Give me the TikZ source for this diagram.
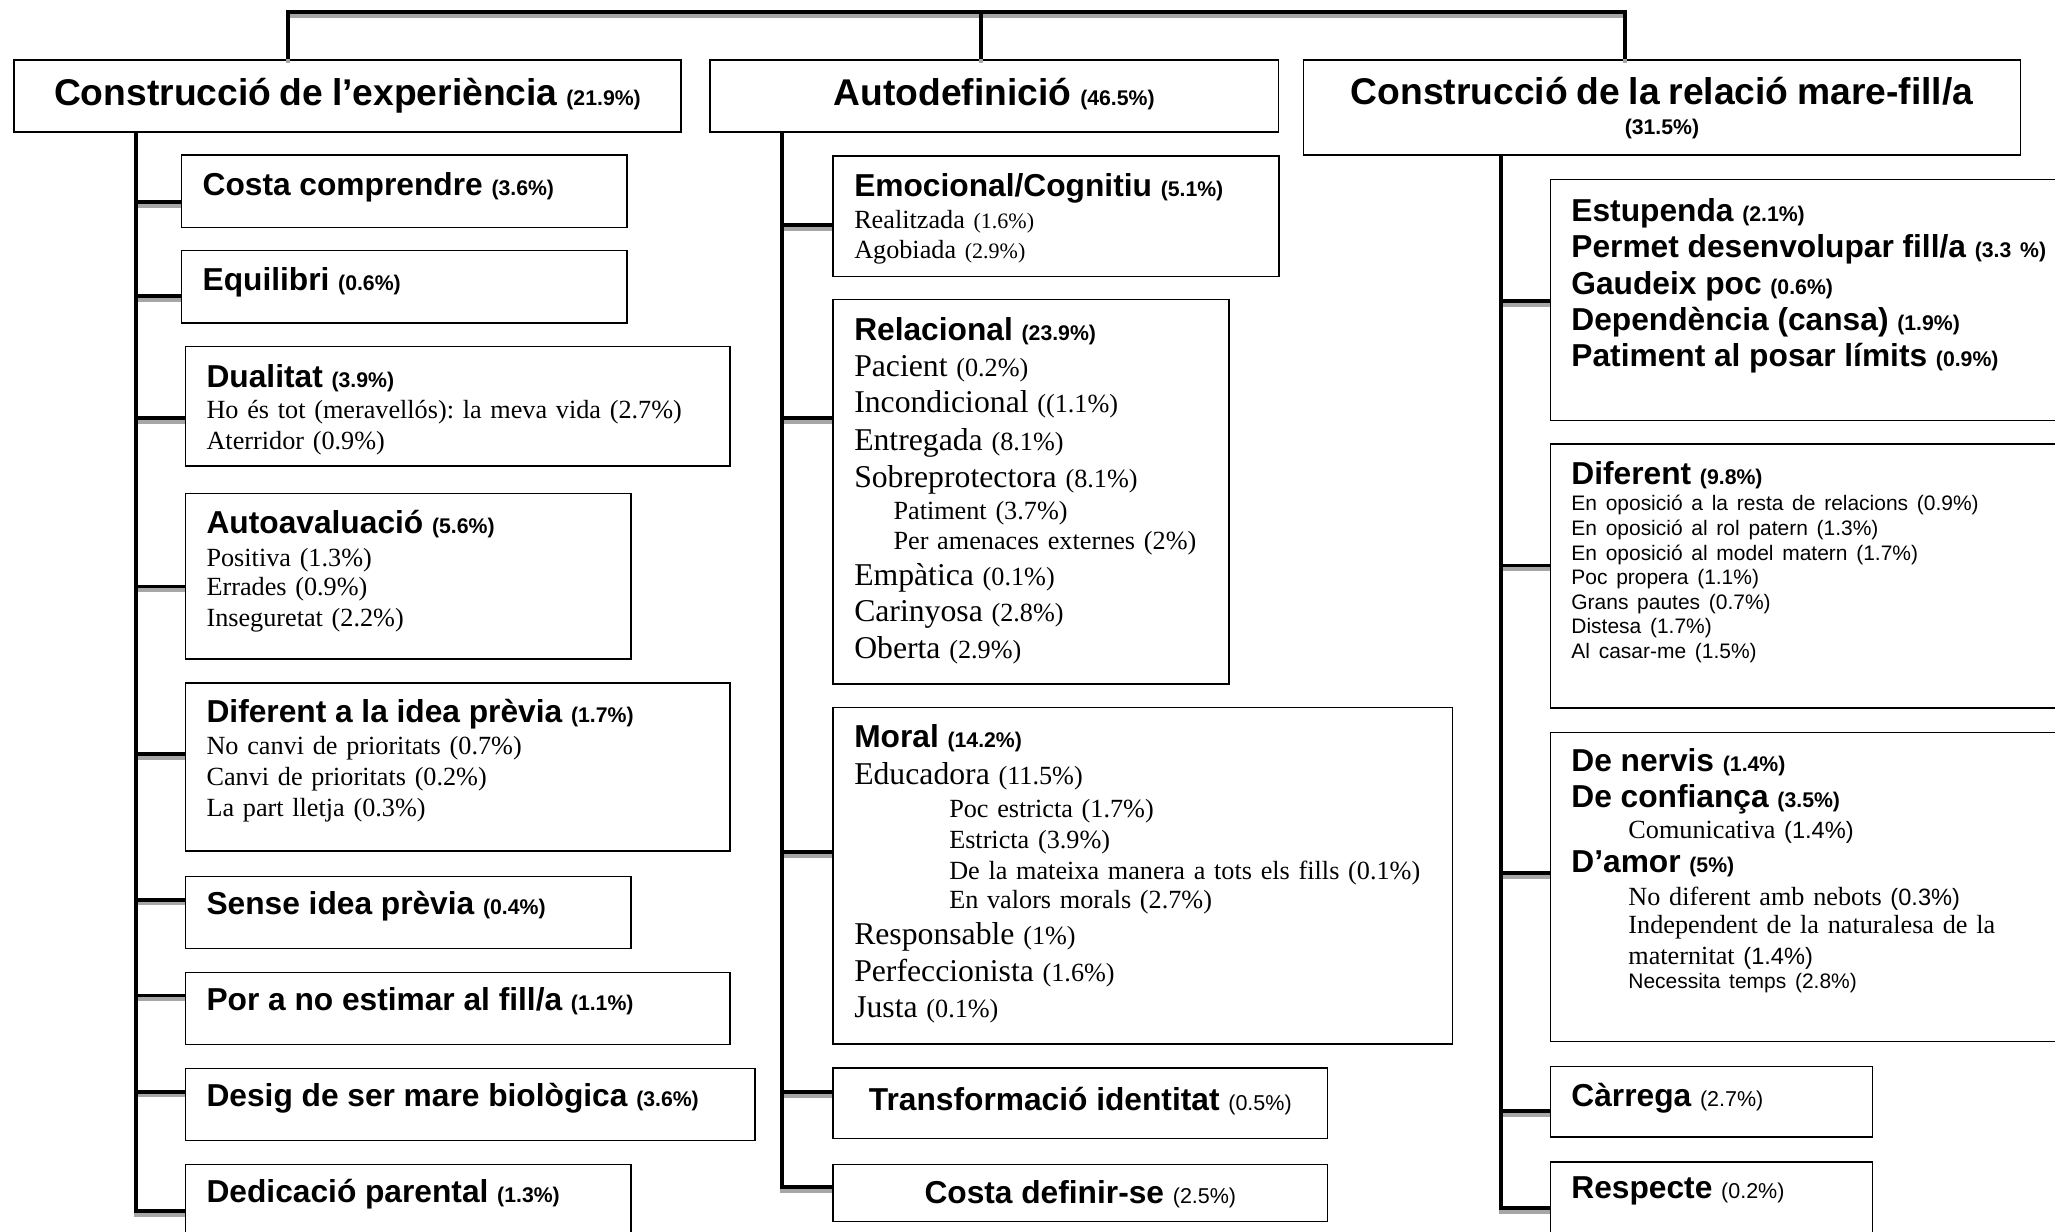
\documentclass[tikz,border=0pt]{standalone}
\usepackage{fontspec}
\setmainfont{Liberation Serif}
\setsansfont{Liberation Sans}
\frenchspacing

% font switches
\newcommand{\fhead}{\sffamily\bfseries\fontsize{14.2pt}{16pt}\selectfont}
\newcommand{\fsub}{\sffamily\bfseries\fontsize{12.1pt}{14pt}\selectfont}
\newcommand{\fpct}{\sffamily\bfseries\fontsize{8.1pt}{10pt}\selectfont}
\newcommand{\fpctr}{\sffamily\fontsize{8.2pt}{10pt}\selectfont}
\newcommand{\fsans}{\sffamily\fontsize{8pt}{10pt}\selectfont}
\newcommand{\fsansm}{\sffamily\fontsize{9pt}{10pt}\selectfont}
\newcommand{\fitem}{\rmfamily\fontsize{10pt}{12pt}\selectfont}
\newcommand{\fbig}{\rmfamily\fontsize{12.1pt}{14pt}\selectfont}
\newcommand{\fsmr}{\rmfamily\fontsize{8.4pt}{10pt}\selectfont}

\begin{document}
\begin{tikzpicture}[x=0.5pt, y=-0.5pt,
    catbox/.style={draw, line width=0.6pt, anchor=north west, inner xsep=8pt, inner ysep=0pt, align=left,
      execute at begin node={\baselineskip=0pt\lineskiplimit=-\maxdimen}},
    midbox/.style={catbox, align=center},
    conn/.style={line width=1.5pt, line join=miter,
      preaction={draw=black!35, line width=1.5pt, transform canvas={yshift=-1.5pt}}}]
    \useasboundingbox (0,0) rectangle (1568,940);
    \clip (0,0) rectangle (1568,940);

    % the three main categories
    \node[midbox, text width=238.5pt, text height=17.5pt, text depth=10pt] (exper) at (10,45) {{\fhead Construcció de l’experiència }{\fpct(21.9\%)}};
    \node[midbox, text width=201pt, text height=17.5pt, text depth=10pt] (autodef) at (541,45) {{\fhead Autodefinició }{\fpct(46.5\%)}};
    \node[midbox, text width=257.5pt, text height=16.95pt, text depth=19.3pt] (relacio) at (994,45) {{\fhead Construcció de la relació mare-fill/a}\\[11.4pt]{\fpct(31.5\%)}};

    % left column
    \node[catbox, text width=154pt, text height=15.65pt, text depth=12.1pt] (costa) at (138,117.5) {{\fsub Costa comprendre }{\fpct(3.6\%)}};
    \node[catbox, text width=154pt, text height=15.15pt, text depth=12.5pt] (equil) at (138,190.7) {{\fsub Equilibri }{\fpct(0.6\%)}};
    \node[catbox, text width=191.75pt, text height=15.65pt, text depth=30pt] (dualitat) at (141,263.7) {{\fsub Dualitat }{\fpct(3.9\%)}\\[11.7pt]{\fitem Ho és tot (meravellós): la meva vida (2.7\%)}\\[11.8pt]{\fitem Aterridor (0.9\%)}};
    \node[catbox, text width=154pt, text height=15.2pt, text depth=47.95pt] (autoaval) at (141,376.1) {{\fsub Autoavaluació }{\fpct(5.6\%)}\\[12.4pt]{\fitem Positiva (1.3\%)}\\[11.35pt]{\fitem Errades (0.9\%)}\\[11.55pt]{\fitem Inseguretat (2.2\%)}};
    \node[catbox, text width=191.75pt, text height=15.15pt, text depth=48.9pt] (idea) at (141,520.7) {{\fsub Diferent a la idea prèvia }{\fpct(1.7\%)}\\[11.9pt]{\fitem No canvi de prioritats (0.7\%)}\\[11.9pt]{\fitem Canvi de prioritats (0.2\%)}\\[11.9pt]{\fitem La part lletja (0.3\%)}};
    \node[catbox, text width=154pt, text height=14.65pt, text depth=12.85pt] (sense) at (141,668.1) {{\fsub Sense idea prèvia }{\fpct(0.4\%)}};
    \node[catbox, text width=191.75pt, text height=14.6pt, text depth=12.85pt] (por) at (141,741.4) {{\fsub Por a no estimar al fill/a }{\fpct(1.1\%)}};
    \node[catbox, text width=201.25pt, text height=14.6pt, text depth=12.85pt] (desig) at (141,814.6) {{\fsub Desig de ser mare biològica }{\fpct(3.6\%)}};
    \node[catbox, text width=154pt, text height=14.6pt, text depth=30pt] (dedicacio) at (141,887.8) {{\fsub Dedicació parental }{\fpct(1.3\%)}};

    % middle column
    \node[catbox, text width=154pt, text height=15.35pt, text depth=30.7pt] (emocional) at (635.2,118.3) {{\fsub Emocional/Cognitiu }{\fpct(5.1\%)}\\[12.3pt]{\fitem Realitzada }{\fsmr(1.6\%)}\\[11.55pt]{\fitem Agobiada }{\fsmr(2.9\%)}};
    \node[catbox, text width=135pt, text height=15.7pt, text depth=131.05pt] (relacional) at (635.2,228) {{\fsub Relacional }{\fpct(23.9\%)}\\[13.65pt]{\fbig Pacient }{\fitem(0.2\%)}\\[13.85pt]{\fbig Incondicional }{\fitem((1.1\%)}\\[14.45pt]{\fbig Entregada }{\fitem(8.1\%)}\\[13.85pt]{\fbig Sobreprotectora }{\fitem(8.1\%)}\\[12.5pt]\hspace*{15pt}{\fitem Patiment (3.7\%)}\\[11.4pt]\hspace*{15pt}{\fitem Per amenaces externes (2\%)}\\[13.6pt]{\fbig Empàtica }{\fitem(0.1\%)}\\[14pt]{\fbig Carinyosa }{\fitem(2.8\%)}\\[14pt]{\fbig Oberta }{\fitem(2.9\%)}};
    \node[catbox, text width=220.2pt, text height=15.4pt, text depth=113pt] (moral) at (635.2,539.2) {{\fsub Moral }{\fpct(14.2\%)}\\[13.85pt]{\fbig Educadora }{\fitem(11.5\%)}\\[12.55pt]\hspace*{36.25pt}{\fitem Poc estricta (1.7\%)}\\[11.85pt]\hspace*{36.25pt}{\fitem Estricta (3.9\%)}\\[11.85pt]\hspace*{36.25pt}{\fitem De la mateixa manera a tots els fills (0.1\%)}\\[11.2pt]\hspace*{36.25pt}{\fitem En valors morals (2.7\%)}\\[13.85pt]{\fbig Responsable }{\fitem(1\%)}\\[13.85pt]{\fbig Perfeccionista }{\fitem(1.6\%)}\\[13.85pt]{\fbig Justa }{\fitem(0.1\%)}};
    \node[midbox, text width=172.5pt, text height=15.95pt, text depth=10.8pt] (transform) at (635.2,814.5) {{\fsub Transformació identitat }{\fpctr(0.5\%)}};
    \node[midbox, text width=172.5pt, text height=15.1pt, text depth=6.65pt] (definir) at (635.2,887.8) {{\fsub Costa definir-se }{\fpctr(2.5\%)}};

    % right column
    \node[catbox, text width=202.8pt, text height=15.95pt, text depth=75.95pt] (estupenda) at (1182.4,136.3) {{\fsub Estupenda }{\fpct(2.1\%)}\\[13.9pt]{\fsub Permet desenvolupar fill/a }{\fpct(3.3 \%)}\\[13.9pt]{\fsub Gaudeix poc }{\fpct(0.6\%)}\\[13.9pt]{\fsub Dependència (cansa) }{\fpct(1.9\%)}\\[13.9pt]{\fsub Patiment al posar límits }{\fpct(0.9\%)}};
    \node[catbox, text width=202.8pt, text height=15.3pt, text depth=85.45pt] (diferent) at (1182.4,338.2) {{\fsub Diferent }{\fpct(9.8\%)}\\[10.25pt]{\fsans En oposició a la resta de relacions (0.9\%)}\\[9.35pt]{\fsans En oposició al rol patern (1.3\%)}\\[9.35pt]{\fsans En oposició al model matern (1.7\%)}\\[9.35pt]{\fsans Poc propera (1.1\%)}\\[9.35pt]{\fsans Grans pautes (0.7\%)}\\[9.35pt]{\fsans Distesa (1.7\%)}\\[9.35pt]{\fsans Al casar-me (1.5\%)}};
    \node[catbox, text width=202.8pt, text height=14.85pt, text depth=103pt] (nervis) at (1182.4,558.3) {{\fsub De nervis }{\fpct(1.4\%)}\\[13.7pt]{\fsub De confiança }{\fpct(3.5\%)}\\[11.85pt]\hspace*{21.75pt}{\fitem Comunicativa }{\fsansm(1.4\%)}\\[13.05pt]{\fsub D’amor }{\fpct(5\%)}\\[12.45pt]\hspace*{21.75pt}{\fitem No diferent amb nebots }{\fsansm(0.3\%)}\\[10.6pt]\hspace*{21.75pt}{\fitem Independent de la naturalesa de la}\\[11.85pt]\hspace*{21.75pt}{\fitem maternitat }{\fsansm(1.4\%)}\\[9.35pt]\hspace*{21.75pt}{\fsans Necessita temps (2.8\%)}};
    \node[catbox, text width=106.8pt, text height=15.5pt, text depth=11.5pt] (carrega) at (1182.4,813) {{\fsub Càrrega }{\fpctr(2.7\%)}};
    \node[catbox, text width=106.8pt, text height=14pt, text depth=23pt] (respecte) at (1182.4,886) {{\fsub Respecte }{\fpctr(0.2\%)}};

    % branch points on the spines
    \coordinate (e1) at (104,154);
    \coordinate (e2) at (104,226);
    \coordinate (e3) at (104,319);
    \coordinate (e4) at (104,447.5);
    \coordinate (e5) at (104,575.6);
    \coordinate (e6) at (104,686.4);
    \coordinate (e7) at (104,759.6);
    \coordinate (e8) at (104,832.9);
    \coordinate (e9) at (104,924.3);
    \coordinate (a1) at (597,172);
    \coordinate (a2) at (597,319);
    \coordinate (a3) at (597,650);
    \coordinate (a4) at (597,833.5);
    \coordinate (a5) at (597,906);
    \coordinate (r1) at (1145,230);
    \coordinate (r2) at (1145,431.5);
    \coordinate (r3) at (1145,666);
    \coordinate (r4) at (1145,848);
    \coordinate (r5) at (1145,922);
    \coordinate (t1) at (220,9);
    \coordinate (t2) at (748.5,9);
    \coordinate (t3) at (1240,9);

    % branches
    \draw[conn] (e1) -- (e1 -| costa.west);
    \draw[conn] (e2) -- (e2 -| equil.west);
    \draw[conn] (e3) -- (e3 -| dualitat.west);
    \draw[conn] (e4) -- (e4 -| autoaval.west);
    \draw[conn] (e5) -- (e5 -| idea.west);
    \draw[conn] (e6) -- (e6 -| sense.west);
    \draw[conn] (e7) -- (e7 -| por.west);
    \draw[conn] (e8) -- (e8 -| desig.west);
    \draw[conn] (a1) -- (a1 -| emocional.west);
    \draw[conn] (a2) -- (a2 -| relacional.west);
    \draw[conn] (a3) -- (a3 -| moral.west);
    \draw[conn] (a4) -- (a4 -| transform.west);
    \draw[conn] (r1) -- (r1 -| estupenda.west);
    \draw[conn] (r2) -- (r2 -| diferent.west);
    \draw[conn] (r3) -- (r3 -| nervis.west);
    \draw[conn] (r4) -- (r4 -| carrega.west);

    % spines
    \draw[conn] (exper.south -| e9) -- (e9) -- (e9 -| dedicacio.west);
    \draw[conn] (autodef.south -| a5) -- (a5) -- (a5 -| definir.west);
    \draw[conn] (relacio.south -| r5) -- (r5) -- (r5 -| respecte.west);

    % top bar
    \draw[conn] (exper.north -| t1) -- (t1) -- (t3) -- (relacio.north -| t3);
    \draw[conn] (t2) -- (autodef.north -| t2);
\end{tikzpicture}
\end{document}
